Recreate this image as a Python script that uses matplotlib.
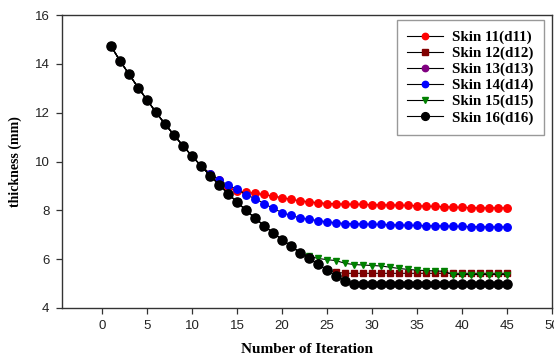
## Thickness vs iteration for skins d11..d16

from matplotlib import pyplot as plt

# Iterations
iters = list(range(1, 46))

# Thickness (mm)
d11 = [14.72, 14.12, 13.57, 13.03, 12.52, 12.01, 11.53, 11.08, 10.64, 10.22,
       9.82, 9.50, 9.25, 8.92, 8.80, 8.74, 8.70, 8.65, 8.58, 8.52,
       8.45, 8.39, 8.35, 8.31, 8.28, 8.27, 8.25, 8.25, 8.24, 8.23,
       8.22, 8.22, 8.21, 8.20, 8.19, 8.17, 8.16, 8.15, 8.13, 8.12,
       8.11, 8.10, 8.10, 8.10, 8.10]
d12 = [14.72, 14.12, 13.57, 13.03, 12.52, 12.01, 11.53, 11.08, 10.64, 10.22,
       9.82, 9.42, 9.05, 8.68, 8.34, 8.00, 7.68, 7.37, 7.08, 6.80,
       6.53, 6.27, 6.03, 5.79, 5.56, 5.47, 5.42, 5.42, 5.42, 5.42,
       5.42, 5.42, 5.42, 5.42, 5.42, 5.42, 5.42, 5.42, 5.42, 5.42,
       5.42, 5.42, 5.42, 5.42, 5.42]
d13 = [14.72, 14.12, 13.57, 13.03, 12.52, 12.01, 11.53, 11.08, 10.64, 10.22,
       9.82, 9.42, 9.05, 8.68, 8.34, 8.00, 7.68, 7.37, 7.08, 6.80,
       6.53, 6.27, 6.03, 5.79, 5.56, 5.32, 5.12, 5.00, 5.00, 5.00,
       5.00, 5.00, 5.00, 5.00, 5.00, 5.00, 5.00, 5.00, 5.00, 5.00,
       5.00, 5.00, 5.00, 5.00, 5.00]
d14 = [14.72, 14.12, 13.57, 13.03, 12.52, 12.01, 11.53, 11.08, 10.64, 10.22,
       9.82, 9.50, 9.25, 9.03, 8.86, 8.64, 8.48, 8.28, 8.08, 7.91,
       7.79, 7.69, 7.63, 7.58, 7.53, 7.49, 7.46, 7.45, 7.44, 7.43,
       7.42, 7.41, 7.40, 7.39, 7.38, 7.37, 7.37, 7.36, 7.35, 7.34,
       7.33, 7.33, 7.32, 7.32, 7.32]
d15 = [14.72, 14.12, 13.57, 13.03, 12.52, 12.01, 11.53, 11.08, 10.64, 10.22,
       9.82, 9.42, 9.05, 8.68, 8.34, 8.00, 7.68, 7.37, 7.08, 6.80,
       6.53, 6.27, 6.12, 6.03, 5.98, 5.94, 5.83, 5.78, 5.76, 5.74,
       5.72, 5.67, 5.62, 5.58, 5.55, 5.53, 5.52, 5.50, 5.37, 5.37,
       5.37, 5.37, 5.37, 5.37, 5.37]
d16 = [14.72, 14.12, 13.57, 13.03, 12.52, 12.01, 11.53, 11.08, 10.64, 10.22,
       9.82, 9.42, 9.05, 8.68, 8.34, 8.00, 7.68, 7.37, 7.08, 6.80,
       6.53, 6.27, 6.03, 5.79, 5.56, 5.32, 5.12, 5.00, 5.00, 5.00,
       5.00, 5.00, 5.00, 5.00, 5.00, 5.00, 5.00, 5.00, 5.00, 5.00,
       5.00, 5.00, 5.00, 5.00, 5.00]

labels = ['Skin 11(d11)', 'Skin 12(d12)', 'Skin 13(d13)',
          'Skin 14(d14)', 'Skin 15(d15)', 'Skin 16(d16)']
x_ticks = [0, 5, 10, 15, 20, 25, 30, 35, 40, 45, 50]
y_ticks = [4, 6, 8, 10, 12, 14, 16]

series = [d11, d12, d13, d14, d15, d16]
colors = ['#ff0000', '#800000', '#800080', '#0000ff', '#008000', '#000000']
markers = ['o', 's', 'o', 'o', 'v', 'o']
sizes = [5.4, 4.6, 5.4, 5.4, 5.0, 6.6]

fig = plt.figure(figsize=(5.54, 3.55), dpi=100)
ax = fig.add_axes([0.112, 0.1324, 0.8844, 0.8253])

for ys, c, m, s, lab in zip(series, colors, markers, sizes, labels):
    ax.plot(iters, ys, color='black', linewidth=0.8, marker=m,
            markersize=s, markerfacecolor=c, markeredgecolor=c, label=lab)

ax.set_xlim(-4.45, 50)
ax.set_ylim(4, 16)
ax.set_xticks(x_ticks)
ax.set_yticks(y_ticks)
for lab in ax.get_xticklabels() + ax.get_yticklabels():
    lab.set_family('Liberation Sans')
    lab.set_fontsize(9.5)
ax.tick_params(direction='out', length=4, width=0.9, colors='#333333',
               labelcolor='#222222', pad=5)
ax.tick_params(axis='x', pad=4.5)
for sp in ax.spines.values():
    sp.set_color('#333333')
    sp.set_linewidth(1.0)

ax.set_xlabel('Number of Iteration', family='Liberation Serif',
              fontweight='bold', fontsize=11, labelpad=8)
ax.set_ylabel('thickness (mm)', family='Liberation Serif',
              fontweight='bold', fontsize=10, labelpad=9)

leg = ax.legend(loc='upper right', bbox_to_anchor=(0.984, 0.983),
                prop={'family': 'Liberation Serif', 'weight': 'bold', 'size': 10.8},
                fancybox=False, frameon=True, borderaxespad=0,
                handlelength=2.4, handletextpad=0.6, labelspacing=0.16,
                borderpad=0.7, markerscale=0.85)
leg.get_frame().set_edgecolor('#808080')
leg.get_frame().set_linewidth(1.0)

fig.savefig('out.png', dpi=100)
